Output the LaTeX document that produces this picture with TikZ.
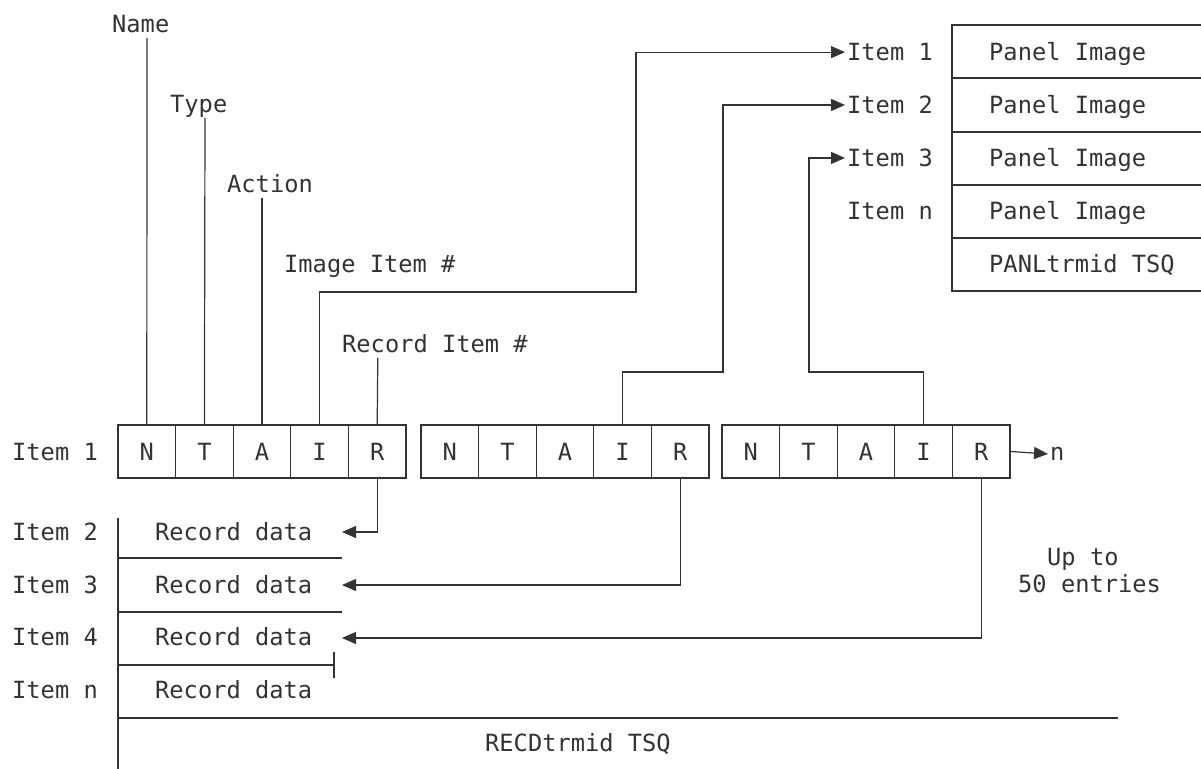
\documentclass[tikz,border=0pt]{standalone}
\usepackage{fontspec}
\setmonofont{DejaVu Sans Mono}
\usetikzlibrary{arrows.meta}
\begin{document}
\begin{tikzpicture}[x=1pt,y=-1pt,
  every node/.style={text=black!80},
  lbl/.style={anchor=base west,inner sep=0pt,font=\ttfamily\fontsize{23.7}{28}\selectfont},
  cell/.style={draw=black!80,line width=1.2pt,minimum width=57.6pt,minimum height=53pt,inner sep=0pt,text height=17.3pt,text depth=0pt,font=\ttfamily\fontsize{23.7}{28}\selectfont},
  ln/.style={draw=black!80,line width=1.2pt},
  arr/.style={ln,-{Triangle[length=14pt,width=12pt]}}]
\useasboundingbox (0,0) rectangle (1201,768);
% --- cells
\foreach \g/\x in {a/118,b/421,c/722}{
  \node[cell] (\g N) at (\x+28.8,451.5) {N};
  \node[cell] (\g T) at (\x+86.4,451.5) {T};
  \node[cell] (\g A) at (\x+144,451.5) {A};
  \node[cell] (\g I) at (\x+201.6,451.5) {I};
  \node[cell] (\g R) at (\x+259.2,451.5) {R};
}
% --- field labels
\node[lbl] (lName) at (112,32.6) {Name};
\node[lbl] (lType) at (170,112.6) {Type};
\node[lbl] (lAct) at (227,192.6) {Action};
\node[lbl] (lImg) at (284,272.6) {Image Item \#};
\node[lbl] (lRec) at (342,352.6) {Record Item \#};
\coordinate (cName) at (147,38);
\coordinate (cType) at (205,118);
\coordinate (cAct) at (262,198);
\coordinate (cRec) at (377.8,358);
\draw[ln] (cName) -- (aN.north);
\draw[ln] (cType) -- (aT.north);
\draw[ln] (cAct) -- (aA.north);
\draw[ln] (cRec) -- (aR.north);
% --- left item labels
\node[lbl] (it1) at (12,460.6) {Item 1};
\node[lbl] (it2) at (12,540.6) {Item 2};
\node[lbl] (it3) at (12,593.6) {Item 3};
\node[lbl] (it4) at (12,645.6) {Item 4};
\node[lbl] (itn) at (12,698.6) {Item n};
% --- record data
\node[lbl] (rd2) at (155,540.6) {Record data};
\node[lbl] (rd3) at (155,593.6) {Record data};
\node[lbl] (rd4) at (155,645.6) {Record data};
\node[lbl] (rdn) at (155,698.6) {Record data};
\node[lbl] (recd) at (485,751.6) {RECDtrmid TSQ};
\draw[ln] (118,518) -- (118,770);
\draw[ln] (118,558) -- (342,558);
\draw[ln] (118,612) -- (342,612);
\draw[ln] (118,665) -- (334,665);
\draw[ln] (334,652) -- (334,678);
\draw[ln] (118,718) -- (1118,718);
\coordinate (t2) at (342,532);
\coordinate (t3) at (342,585);
\coordinate (t4) at (342,638);
\draw[arr] (aR.south) |- (t2);
\draw[arr] (bR.south) |- (t3);
\draw[arr] (cR.south) |- (t4);
% --- n
\node[lbl] (nlab) at (1050,460.6) {n};
\draw[arr] (cR.east) -- ([xshift=-2pt]nlab.west);
% --- up to
\node[lbl] (up) at (1047,565.6) {Up to};
\node[lbl] (fifty) at (1018,592.6) {50 entries};
% --- panel
\draw[ln] (1203,25) -- (952,25) -- (952,291) -- (1203,291);
\foreach \yy in {78,132,185,238} \draw[ln] (952,\yy) -- (1203,\yy);
\node[lbl] (pi1) at (989,60.6) {Panel Image};
\node[lbl] (pi2) at (989,113.6) {Panel Image};
\node[lbl] (pi3) at (989,166.6) {Panel Image};
\node[lbl] (pin) at (989,219.6) {Panel Image};
\node[lbl] (panl) at (989,272.6) {PANLtrmid TSQ};
\node[lbl] (pit1) at (847,60.6) {Item 1};
\node[lbl] (pit2) at (847,113.6) {Item 2};
\node[lbl] (pit3) at (847,166.6) {Item 3};
\node[lbl] (pitn) at (847,219.6) {Item n};
% --- image connectors
\draw[arr] (aI.north) |- (636,292) |- ([xshift=-2pt]pit1.west);
\draw[arr] (bI.north) |- (723,372) |- ([xshift=-2pt]pit2.west);
\draw[arr] (cI.north) |- (809,372) |- ([xshift=-2pt]pit3.west);
\end{tikzpicture}
\end{document}
